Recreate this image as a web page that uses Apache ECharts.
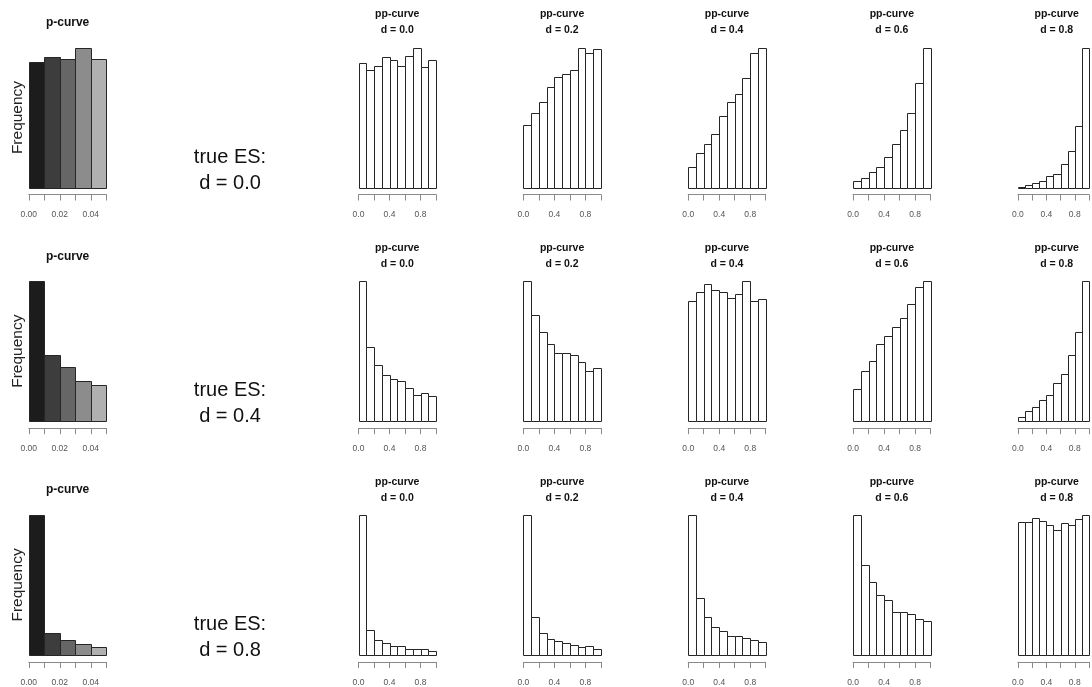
<!DOCTYPE html>
<html>
<head>
<meta charset="utf-8">
<script src="https://cdn.jsdelivr.net/npm/echarts@6/dist/echarts.min.js"></script>
<style>
  html, body { margin: 0; padding: 0; background: #fff; }
  #chart { width: 1092px; height: 687px; }
</style>
</head>
<body>
<div id="chart"></div>
<script>
// True effect sizes (one per row) and assumed powers of the pp-curves (one per column)
const trueES = ['0.0', '0.4', '0.8'];
const ppPowers = ['0.0', '0.2', '0.4', '0.6', '0.8'];

// p-curve bins (p < .05, in steps of .01) and tick labels
const pBinEdges = [0, 0.01, 0.02, 0.03, 0.04, 0.05];
const pTickLabels = ['0.00', '0.02', '0.04'];
const pShades = ['#1c1c1c', '#3d3d3d', '#666666', '#8c8c8c', '#b0b0b0'];

// pp-curve bins (0 to 1, in steps of .1) and tick labels
const ppBinEdges = [0, 0.1, 0.2, 0.3, 0.4, 0.5, 0.6, 0.7, 0.8, 0.9, 1.0];
const ppTickLabels = ['0.0', '0.4', '0.8'];

// Relative frequencies (tallest bar of each histogram = 100)
const pCurveEs00 = [90, 93, 92, 100, 92];
const pCurveEs04 = [100, 47, 39, 29, 26];
const pCurveEs08 = [100, 16, 11, 7.6, 5.5];

const ppCurveEs00 = [
  [89, 84, 87, 93, 91, 87, 94, 100, 86, 91],
  [45, 53, 61, 72, 79, 81, 84, 100, 96, 99],
  [15, 25, 31, 38, 51, 61, 67, 78, 96, 100],
  [4.3, 6.7, 11, 15, 22, 31, 41, 53, 75, 100],
  [0.7, 1.9, 3.1, 4.8, 7.9, 10, 17, 26, 44, 100]
];
const ppCurveEs04 = [
  [100, 53, 40, 33, 30, 29, 24, 19, 20, 18],
  [100, 76, 64, 55, 49, 49, 47, 42, 36, 38],
  [86, 92, 98, 94, 92, 88, 91, 100, 86, 87],
  [23, 36, 43, 55, 61, 67, 74, 84, 96, 100],
  [2.9, 7.1, 10, 15, 19, 27, 34, 47, 64, 100]
];
const ppCurveEs08 = [
  [100, 18, 10.5, 8.8, 6.4, 6.4, 4.5, 4.5, 4, 2.9],
  [100, 27, 15.5, 11.7, 9.8, 8.8, 7.1, 6, 6.4, 4.5],
  [100, 41, 27, 20, 17, 13.6, 13.6, 12, 11, 9],
  [100, 64, 52, 43, 39, 31, 30.5, 29, 26, 24.5],
  [95, 95, 98, 96, 93, 89, 94, 93, 97, 100]
];

const pCurveRows = [pCurveEs00, pCurveEs04, pCurveEs08];
const ppCurveRows = [ppCurveEs00, ppCurveEs04, ppCurveEs08];

// ---- layout of the 3 x 7 panel matrix ----
const FONT = '"Liberation Sans", Arial, Helvetica, sans-serif';
const colStep = 164.85, colStart0 = 28.8;
const rowStep = 233.7, rowTop0 = 47.5;
const panelW = 77.5, panelH = 140;
const colLeft = c => colStart0 + c * colStep;
const rowTop = r => rowTop0 + r * rowStep;

const grids = [], xAxes = [], yAxes = [], series = [], graphics = [];

function histRenderer(colors) {
  return function (params, api) {
    const lo = api.value(0), hi = api.value(1), h = api.value(2);
    const a = api.coord([lo, 0]);
    const b = api.coord([hi, h]);
    const x0 = Math.round(a[0]) + 0.5, x1 = Math.round(b[0]) + 0.5;
    const y0 = Math.round(a[1]) + 0.5, y1 = Math.round(b[1]) + 0.5;
    return {
      type: 'rect',
      shape: { x: x0, y: y1, width: x1 - x0, height: y0 - y1 },
      style: { fill: colors[params.dataIndex % colors.length], stroke: '#262626', lineWidth: 1 }
    };
  };
}

function addPanel(r, c, edges, values, colors, tickLabels, step, decimals, withYName) {
  const gi = grids.length;
  grids.push({ left: colLeft(c), top: rowTop(r), width: panelW, height: panelH, containLabel: false });
  xAxes.push({
    gridIndex: gi, type: 'value', min: edges[0], max: edges[edges.length - 1], interval: step,
    position: 'bottom', offset: 7,
    axisLine: { show: true, onZero: false, lineStyle: { color: '#8a8a8a', width: 1 } },
    axisTick: { show: true, inside: false, length: 6, lineStyle: { color: '#8a8a8a', width: 1 } },
    splitLine: { show: false },
    axisLabel: {
      show: true, margin: 16, fontSize: 8.5, fontFamily: FONT, color: '#555',
      showMinLabel: true, showMaxLabel: true,
      formatter: (v) => {
        const s = Number(v).toFixed(decimals);
        return tickLabels.indexOf(s) >= 0 ? s : '';
      }
    }
  });
  yAxes.push({
    gridIndex: gi, type: 'value', min: 0, max: v => v.max,
    axisLine: { show: false, onZero: false }, axisTick: { show: false }, axisLabel: { show: false },
    splitLine: { show: false },
    name: withYName ? 'Frequency' : '',
    nameLocation: 'middle', nameGap: 3, nameRotate: 90,
    nameTextStyle: { fontSize: 15.5, fontFamily: FONT, color: '#222' }
  });
  const data = values.map((v, i) => [edges[i], edges[i + 1], v]);
  series.push({
    type: 'custom', xAxisIndex: gi, yAxisIndex: gi,
    renderItem: histRenderer(colors),
    encode: { x: [0, 1], y: 2 },
    data: data, silent: true, animation: false
  });
}

function addText(x, y, text, size, weight) {
  graphics.push({
    type: 'text', x: x, y: y, silent: true,
    style: {
      text: text, fontSize: size, fontWeight: weight, fontFamily: FONT, fill: '#111',
      textAlign: 'center', textVerticalAlign: 'middle'
    }
  });
}

for (let r = 0; r < 3; r++) {
  // p-curve column
  addPanel(r, 0, pBinEdges, pCurveRows[r], pShades, pTickLabels, 0.01, 2, true);
  addText(colLeft(0) + panelW / 2, rowTop(r) - 25, 'p-curve', 12, 'bold');

  // label column
  addText(230, rowTop(r) + 109.5, 'true ES:', 20, 'normal');
  addText(230, rowTop(r) + 135.5, 'd = ' + trueES[r], 20, 'normal');

  // pp-curve columns
  for (let k = 0; k < ppPowers.length; k++) {
    const c = k + 2;
    addPanel(r, c, ppBinEdges, ppCurveRows[r][k], ['#ffffff'], ppTickLabels, 0.2, 1, false);
    addText(colLeft(c) + panelW / 2, rowTop(r) - 33, 'pp-curve', 10.5, 'bold');
    addText(colLeft(c) + panelW / 2, rowTop(r) - 17, 'd = ' + ppPowers[k], 10.5, 'bold');
  }
}

const chart = echarts.init(document.getElementById('chart'), null, { renderer: 'canvas' });
chart.setOption({
  backgroundColor: '#ffffff',
  animation: false,
  grid: grids,
  xAxis: xAxes,
  yAxis: yAxes,
  series: series,
  graphic: graphics
});
</script>
</body>
</html>
